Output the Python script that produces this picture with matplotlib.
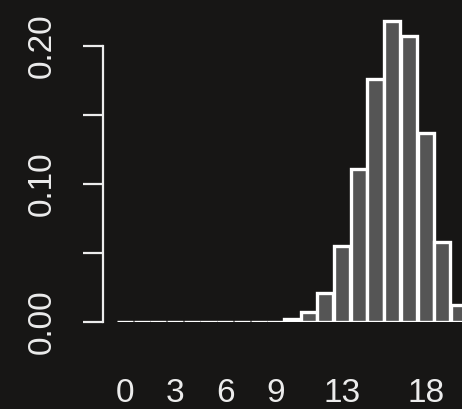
import matplotlib
matplotlib.use("Agg")
import matplotlib.pyplot as plt

# Data
categories = list(range(0, 25))
values = [0, 0, 0, 0, 0, 0, 0, 0, 0, 0,
          0.002, 0.007, 0.021, 0.055, 0.111, 0.176, 0.218, 0.207, 0.137, 0.058,
          0.012, 0.004, 0.001, 0.0, 0.0]
xtick_labels = ["0", "3", "6", "9", "13", "18"]
xtick_pos = [0, 3, 6, 9, 13, 18]
ytick_pos = [0.00, 0.05, 0.10, 0.15, 0.20]
ytick_labels = ["0.00", "", "0.10", "", "0.20"]

W, H = 462, 409
bg = "#171615"
fg = "#ececec"
plt.rcParams['font.family'] = ['Liberation Sans', 'DejaVu Sans']

fig = plt.figure(figsize=(W / 100, H / 100), dpi=100, facecolor=bg)

# pixel mapping
unit = 16.7          # px per category
x0px = 125.0         # pixel of category 0
left_px, right_px = 103.0, 462.0
base_px = 322.0      # y pixel of value 0
ppu = 1380.0         # px per unit of y
ax = fig.add_axes([left_px / W, (H - base_px) / H, (right_px - left_px) / W, base_px / H])
ax.set_facecolor(bg)
ax.set_xlim((left_px - x0px) / unit, (right_px - x0px) / unit)
ax.set_ylim(0, base_px / ppu)

ax.bar(categories, values, width=0.97, color="#555555", edgecolor="white",
       linewidth=2.4, clip_on=True)

for s in ["top", "right", "bottom"]:
    ax.spines[s].set_visible(False)
ax.spines["left"].set_color(fg)
ax.spines["left"].set_linewidth(1.6)
ax.spines["left"].set_bounds(0, 0.20)

ax.set_yticks(ytick_pos)
ax.set_yticklabels(ytick_labels, rotation=90, va="center", fontsize=24, color=fg)
ax.tick_params(axis="y", length=14.4, width=1.6, color=fg, pad=18.5)

ax.set_xticks(xtick_pos)
ax.set_xticklabels(xtick_labels, fontsize=24, color=fg)
ax.tick_params(axis="x", length=0, pad=40)

fig.savefig("out.png", dpi=100, facecolor=bg)
